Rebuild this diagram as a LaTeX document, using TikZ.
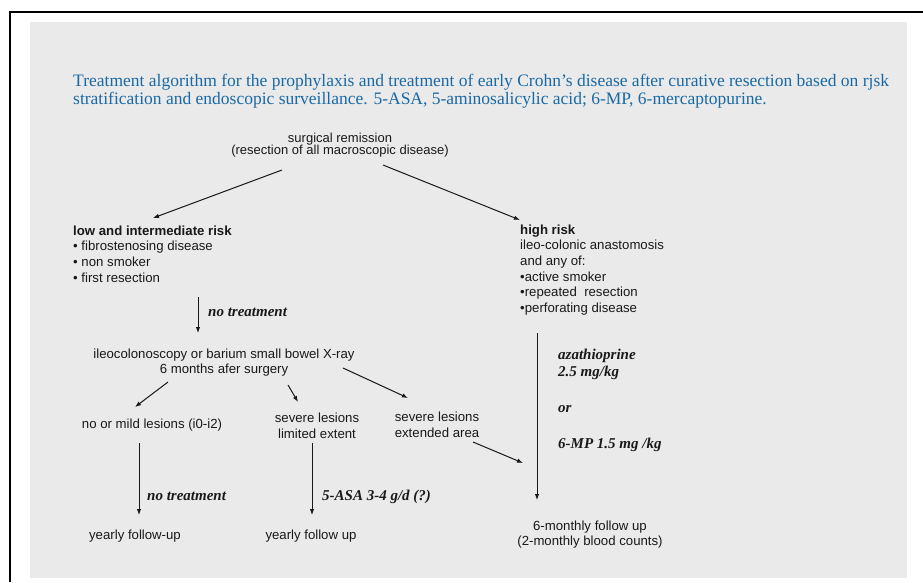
\documentclass[tikz,border=0pt]{standalone}
\usepackage{fontspec}
\setmainfont{Liberation Serif}
\setsansfont{Liberation Sans}
\usetikzlibrary{arrows.meta}
\definecolor{titleblue}{RGB}{25,105,165}
\definecolor{ink}{RGB}{25,25,25}
\definecolor{paper}{RGB}{234,234,234}
\begin{document}
\begin{tikzpicture}[x=1pt,y=-1pt,
  lbl/.style={font=\sffamily\fontsize{13.2}{15.7}\selectfont, text=ink, inner sep=0pt, align=left},
  ctr/.style={lbl, align=center},
  drug/.style={font=\rmfamily\bfseries\itshape\fontsize{15}{17}\selectfont, text=ink, inner sep=0pt, anchor=west, text height=10pt, text depth=3pt},
  arr/.style={draw=ink, line width=1pt, -{Latex[length=6pt,width=4.5pt]}},
  ttl/.style={font=\rmfamily\fontsize{17.5}{18}\selectfont, text=titleblue, inner sep=0pt, anchor=base west}
]
\useasboundingbox (0,0) rectangle (923,582);
\fill[white] (0,0) rectangle (923,582);
\fill[paper] (30,22) rectangle (907,578);
\draw[black, line width=2pt] (10,582) -- (10,12) -- (923,12);

\node[ttl] (title1) at (73,86) {Treatment algorithm for the prophylaxis and treatment of early Crohn's disease after curative resection based on rjsk};
\node[ttl] (title2) at (73,104) {stratification and endoscopic surveillance. 5-ASA, 5-aminosalicylic acid; 6-MP, 6-mercaptopurine.};

\node[ctr, font=\sffamily\fontsize{13}{12.5}\selectfont] (sr) at (340,145) {surgical remission\\(resection of all macroscopic disease)};
\node[lbl, anchor=west] (low) at (73,254) {\textbf{low and intermediate risk}\\• fibrostenosing disease\\• non smoker\\• first resection};
\node[lbl, anchor=west] (high) at (520,270) {\textbf{high risk}\\ileo-colonic anastomosis\\and any of:\\•active smoker\\•repeated\ \ resection\\•perforating disease};
\node[ctr] (ileo) at (224,362.5) {ileocolonoscopy or barium small bowel X-ray\\6 months afer surgery};
\node[ctr] (mild) at (152,425) {no or mild lesions (i0-i2)};
\node[ctr] (limited) at (317,426) {severe lesions\\limited extent};
\node[ctr] (extended) at (437,425) {severe lesions\\extended area};
\node[ctr] (yearlyA) at (135,536) {yearly follow-up};
\node[ctr] (yearlyB) at (311,536) {yearly follow up};
\node[ctr] (six) at (590,534.5) {6-monthly follow up\\(2-monthly blood counts)};

\node[drug] (nt1) at (208,313) {no treatment};
\node[drug] (nt2) at (147,497) {no treatment};
\node[drug] (asa) at (322,497) {5-ASA 3-4 g/d (?)};
\node[drug] (aza) at (558,356) {azathioprine};
\node[drug] (dose) at (558,373) {2.5 mg/kg};
\node[drug] (or) at (558,409) {or};
\node[drug] (mp) at (558,445) {6-MP 1.5 mg /kg};

\coordinate (srL) at (282,170);
\coordinate (lowT) at (153,218);
\coordinate (srR) at (383,165);
\coordinate (highT) at (520,220);
\coordinate (lowB) at (198,297);
\coordinate (ileoT) at (198,333);
\coordinate (ileoL) at (168,382);
\coordinate (mildT) at (135,407);
\coordinate (ileoM) at (288,385);
\coordinate (limT) at (298,402);
\coordinate (ileoR) at (343,368);
\coordinate (extT) at (408,398);
\coordinate (mildB) at (139,443);
\coordinate (yAT) at (139,515);
\coordinate (limB) at (312,443);
\coordinate (yBT) at (312,515);
\coordinate (extB) at (473,442);
\coordinate (sixE) at (523,463);
\coordinate (highB) at (537,333);
\coordinate (sixT) at (537,500);

\draw[arr] (srL) -- (lowT);
\draw[arr] (srR) -- (highT);
\draw[arr] (lowB) -- (ileoT);
\draw[arr] (ileoL) -- (mildT);
\draw[arr] (ileoM) -- (limT);
\draw[arr] (ileoR) -- (extT);
\draw[arr] (mildB) -- (yAT);
\draw[arr] (limB) -- (yBT);
\draw[arr] (extB) -- (sixE);
\draw[arr] (highB) -- (sixT);
\end{tikzpicture}
\end{document}
